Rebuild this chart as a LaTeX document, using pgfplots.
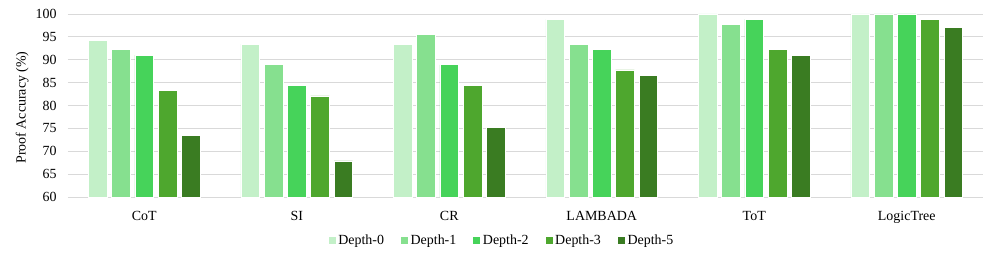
\documentclass[border=0pt]{standalone}
\usepackage{fontspec}
\setmainfont{Liberation Serif}
\usepackage{pgfplots}
\pgfplotsset{compat=1.18}
\definecolor{d0}{HTML}{C3F0C8}
\definecolor{d1}{HTML}{86E08F}
\definecolor{d2}{HTML}{46D35A}
\definecolor{d3}{HTML}{4EA72E}
\definecolor{d5}{HTML}{3A7C22}
\definecolor{gridc}{HTML}{D9D9D9}
\begin{document}
\begin{tikzpicture}
\begin{axis}[
  name=ax, at={(0,0)}, anchor=south west,
  scale only axis, width=915bp, height=183bp,
  ybar=4.6bp, bar width=18.7bp,
  xmin=-0.5, xmax=5.5, ymin=60, ymax=100,
  xtick=data, xticklabels={CoT,SI,CR,LAMBADA,ToT,LogicTree},
  ytick={60,65,...,100},
  ymajorgrids, grid style={gridc, line width=0.8bp},
  axis x line*=bottom, axis y line*=left,
  x axis line style={gridc, line width=0.8bp},
  y axis line style={draw=none},
  major tick length=0pt,
  tick label style={font=\fontsize{14}{16}\selectfont},
  /pgf/number format/assume math mode=true,
  yticklabel style={xshift=-8bp},
  xticklabel style={yshift=-11bp},
  ylabel={Proof Accuracy (\%)},
  every axis y label/.style={at={(ticklabel cs:0.5)}, rotate=90, anchor=near ticklabel, xshift=-2bp, font=\fontsize{14}{16}\selectfont},
  legend columns=5,
  legend style={at={(0.5,-43bp)}, xshift=-24bp, anchor=center, draw=none, fill=none,
    font=\fontsize{14}{16}\selectfont,
    /tikz/every even column/.append style={column sep=14bp}},
  legend image code/.code={\fill[#1] (0bp,-4bp) rectangle (8bp,4bp);},
  every axis plot/.append style={draw=white, line width=0.6bp},
  clip=false,
]
\addplot[fill=d0] coordinates {(0,94.3) (1,93.4) (2,93.4) (3,98.9) (4,100) (5,100)};
\addplot[fill=d1] coordinates {(0,92.2) (1,88.9) (2,95.6) (3,93.4) (4,97.7) (5,100)};
\addplot[fill=d2] coordinates {(0,91.0) (1,84.4) (2,88.9) (3,92.2) (4,98.9) (5,100)};
\addplot[fill=d3] coordinates {(0,83.3) (1,82.1) (2,84.4) (3,87.8) (4,92.2) (5,98.9)};
\addplot[fill=d5] coordinates {(0,73.5) (1,67.9) (2,75.2) (3,86.6) (4,91.0) (5,97.0)};
\legend{Depth-0,Depth-1,Depth-2,Depth-3,Depth-5}
\end{axis}
\pgfresetboundingbox
\path[use as bounding box] (-68bp,-63bp) rectangle (929bp,197bp);
\end{tikzpicture}
\end{document}
